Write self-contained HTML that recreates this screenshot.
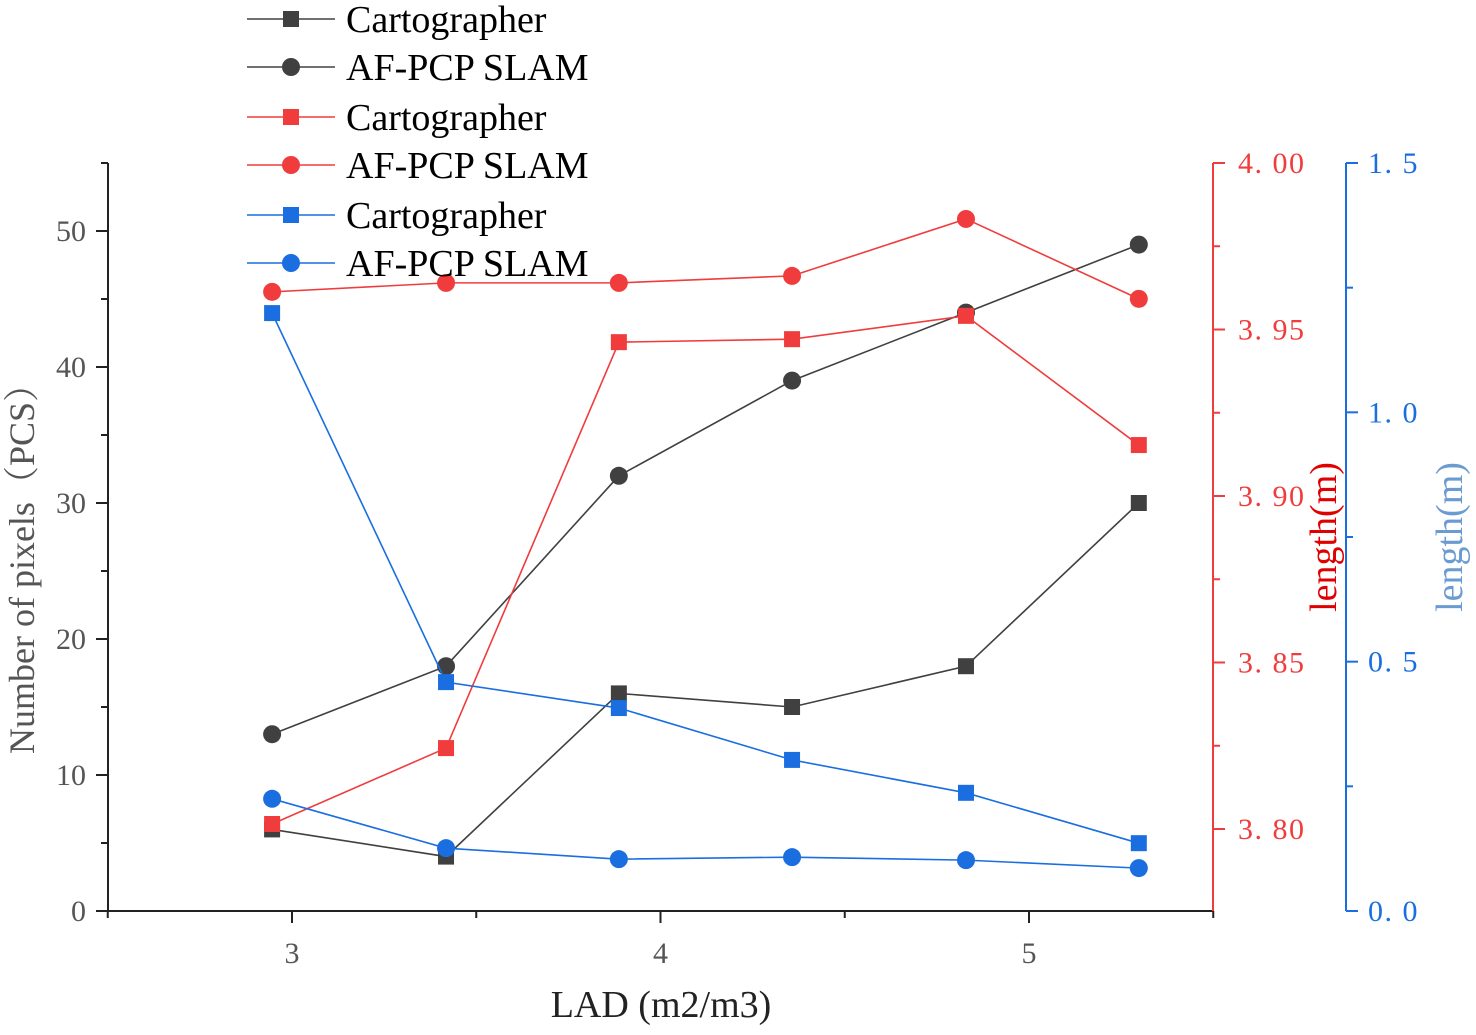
<!DOCTYPE html>
<html><head><meta charset="utf-8"><style>
body{margin:0;background:#fff}
text{font-family:"Liberation Serif","Noto Serif CJK SC",serif}
</style></head><body>
<svg id="chart" width="1476" height="1030" xmlns="http://www.w3.org/2000/svg"></svg>
<script>
const xValues=[2.946,3.418,3.887,4.357,4.829,5.298];
const blackSquares=[6,4,16,15,18,30];
const blackCircles=[13,18,32,39,44,49];
const redSquares=[3.8015,3.8243,3.9462,3.9471,3.9541,3.9153];
const redCircles=[3.9613,3.964,3.964,3.9661,3.9832,3.9592];
const blueSquares=[1.199,0.459,0.407,0.303,0.237,0.136];
const blueCircles=[0.225,0.126,0.104,0.108,0.102,0.086];
const xTicks=[3,4,5];
const leftTicks=[0,10,20,30,40,50];
const redTicks=[3.80,3.85,3.90,3.95,4.00];
const blueTicks=[0.0,0.5,1.0,1.5];

const NS="http://www.w3.org/2000/svg";
const svg=document.getElementById('chart');
const X0=108,X1=1213,YT=163,YB=911;
const xs=v=>292+(v-3)*368.5;
const yL=v=>YB-v*13.6;
const yR=v=>163+(4-v)*3330;
const yB=v=>YB-v*(748/1.5);
const BLK='#404040',RED='#f03c3c',BLU='#1a6ee0';
function el(t,a,p){const e=document.createElementNS(NS,t);for(const k in a)e.setAttribute(k,a[k]);(p||svg).appendChild(e);return e;}
function txt(s,x,y,a){const e=el('text',Object.assign({x,y},a));e.textContent=s;return e;}

let g=el('g',{});


el('line',{x1:X0,y1:YT,x2:X0,y2:YB,stroke:'#222','stroke-width':2},g);
for(let v=0;v<=55;v+=5){const y=yL(v);el('line',{x1:X0,y1:y,x2:X0-(v%10==0?12:7),y2:y,stroke:'#222','stroke-width':2},g);}
leftTicks.forEach(v=>{const t=txt(String(v),86,yL(v)+10,{'font-size':30,fill:'#555','text-anchor':'end'});});

g=el('g',{});


el('line',{x1:X0,y1:YB,x2:X1,y2:YB,stroke:'#222','stroke-width':2},g);
for(let v=2.5;v<=5.51;v+=0.5){const x=xs(v);el('line',{x1:x,y1:YB,x2:x,y2:YB+(Math.abs(v-Math.round(v))<0.01?12:7),stroke:'#222','stroke-width':2},g);}
xTicks.forEach(v=>{const t=txt(String(v),xs(v),963,{'font-size':30,fill:'#555','text-anchor':'middle'});});

g=el('g',{});


el('line',{x1:X1,y1:YT,x2:X1,y2:YB,stroke:RED,'stroke-width':2},g);
for(let i=0;i<=8;i++){const v=4-i*0.025;const y=yR(v);el('line',{x1:X1,y1:y,x2:X1+(i%2==0?12:7),y2:y,stroke:RED,'stroke-width':2},g);}
redTicks.forEach(v=>{const s=v.toFixed(2).replace('.','. ');const t=txt(s,1238,yR(v)+10,{'font-size':30,fill:RED,'letter-spacing':1.5});});

g=el('g',{});


el('line',{x1:1346,y1:YT,x2:1346,y2:YB,stroke:BLU,'stroke-width':2},g);
for(let i=0;i<=6;i++){const v=i*0.25;const y=yB(v);el('line',{x1:1346,y1:y,x2:1346+(i%2==0?12:7),y2:y,stroke:BLU,'stroke-width':2},g);}
blueTicks.forEach(v=>{const s=v.toFixed(1).replace('.','. ');const t=txt(s,1368,yB(v)+10,{'font-size':30,fill:BLU,'letter-spacing':1.5});});

let t=txt('Number of pixels（PCS）',0,0,{'font-size':36,fill:'#555','text-anchor':'middle',transform:'translate(34,560) rotate(-90)'});

t=txt('LAD (m2/m3)',661,1017,{'font-size':38,fill:'#222','text-anchor':'middle'});

t=txt('length(m)',0,0,{'font-size':38,fill:'#e00000','text-anchor':'middle',transform:'translate(1336,537) rotate(-90)'});

t=txt('length(m)',0,0,{'font-size':38,fill:'#6a9bd1','text-anchor':'middle',transform:'translate(1462,537) rotate(-90)'});


function series(vals,yf,color,shape,name){
  const sg=el('g',{});
  
  
  el('polyline',{points:vals.map((v,i)=>xs(xValues[i])+','+yf(v)).join(' '),fill:'none',stroke:color,'stroke-width':1.6},sg);
  vals.forEach((v,i)=>{const x=xs(xValues[i]),y=yf(v);let m;
    if(shape=='s')m=el('rect',{x:x-8,y:y-8,width:16,height:16,fill:color},sg);
    else m=el('circle',{cx:x,cy:y,r:9,fill:color},sg);
    });
}
series(blackSquares,yL,BLK,'s','black-cartographer-series');
series(blackCircles,yL,BLK,'c','black-afpcp-series');
series(redSquares,yR,RED,'s','red-cartographer-series');
series(redCircles,yR,RED,'c','red-afpcp-series');
series(blueSquares,yB,BLU,'s','blue-cartographer-series');
series(blueCircles,yB,BLU,'c','blue-afpcp-series');

const legendNames=['Cartographer','AF-PCP SLAM','Cartographer','AF-PCP SLAM','Cartographer','AF-PCP SLAM'];
const legendColors=[BLK,BLK,RED,RED,BLU,BLU];
const legendYs=[19,67,117,165,215,263];
legendNames.forEach((n,i)=>{const lg=el('g',{});
  
  
  const y=legendYs[i],c=legendColors[i];
  el('line',{x1:247,y1:y,x2:335,y2:y,stroke:c,'stroke-width':1.6},lg);
  if(i%2==0)el('rect',{x:283,y:y-8,width:16,height:16,fill:c},lg);else el('circle',{cx:291,cy:y,r:9,fill:c},lg);
  const tt=el('text',{x:346,y:y+13,'font-size':38,fill:'#000'},lg);tt.textContent=n;
});
</script>
</body></html>
